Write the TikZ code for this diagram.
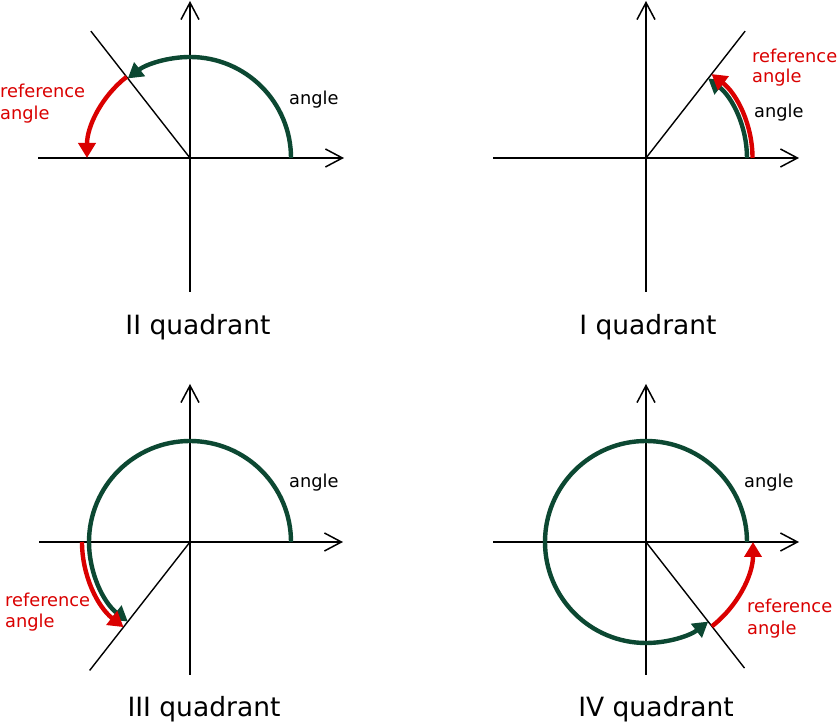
\documentclass[tikz,border=0pt]{standalone}
\usepackage{fontspec}
\setmainfont{DejaVu Sans}
\usetikzlibrary{arrows.meta}
\definecolor{arcgreen}{RGB}{12,72,50}
\definecolor{refred}{RGB}{218,0,0}
\begin{document}
\begin{tikzpicture}[x=1pt,y=1pt,
  axis/.style={line width=1.5pt, -{Straight Barb[length=17pt,width=18pt]}},
  termline/.style={line width=1.4pt},
  greenarc/.style={arcgreen, line width=4.4pt, -{Triangle[length=15pt,width=17pt]}},
  redarc/.style={refred, line width=4.4pt, -{Triangle[length=15pt,width=17pt]}},
  lbl/.style={font=\fontsize{17.8}{21}\selectfont, inner sep=0pt, anchor=base west},
  reflbl/.style={lbl, text=refred},
  titlelbl/.style={font=\fontsize{26.5}{32}\selectfont, inner sep=0pt, anchor=base}]
\useasboundingbox (0,0) rectangle (840,722);
\fill[white] (0,0) rectangle (840,722);

% ---------- II quadrant ----------
\coordinate (O2) at (190,564);
\begin{scope}[shift={(O2)}]
  \draw[axis] (-152pt,0pt) -- (154pt,0pt);
  \draw[axis] (0pt,-134pt) -- (0pt,157pt);
  \draw[termline] (0pt,0pt) -- (128:161pt);
  \draw[greenarc] (0:101pt) arc[start angle=0, end angle=128, radius=101pt];
  \draw[redarc] (128:103pt) arc[start angle=128, end angle=180, radius=103pt];
\end{scope}
\node[lbl] (a2) at (289,617) {angle};
\node[reflbl] (r2a) at (0,624) {reference};
\node[reflbl] (r2b) at (0,602) {angle};
\node[titlelbl] (t2) at (198,387) {II quadrant};

% ---------- I quadrant ----------
\coordinate (O1) at (646,564);
\begin{scope}[shift={(O1)}]
  \draw[axis] (-153pt,0pt) -- (153pt,0pt);
  \draw[axis] (0pt,-134pt) -- (0pt,157pt);
  \draw[termline] (0pt,0pt) -- (52:161pt);
  \draw[greenarc] (0:101pt) arc[start angle=0, end angle=52, radius=101pt];
  \draw[redarc] (0:106.5pt) arc[start angle=0, end angle=52, radius=106.5pt];
\end{scope}
\node[reflbl] (r1a) at (752,659) {reference};
\node[reflbl] (r1b) at (752,639) {angle};
\node[lbl] (a1) at (754,604) {angle};
\node[titlelbl] (t1) at (648,387) {I quadrant};

% ---------- III quadrant ----------
\coordinate (O3) at (190,180);
\begin{scope}[shift={(O3)}]
  \draw[axis] (-151pt,0pt) -- (153pt,0pt);
  \draw[axis] (0pt,-133pt) -- (0pt,158pt);
  \draw[termline] (0pt,0pt) -- (232:163pt);
  \draw[greenarc] (0:101pt) arc[start angle=0, end angle=232, radius=101pt];
  \draw[redarc] (180:108pt) arc[start angle=180, end angle=232, radius=108pt];
\end{scope}
\node[lbl] (a3) at (289,234) {angle};
\node[reflbl] (r3a) at (5,115) {reference};
\node[reflbl] (r3b) at (5,94) {angle};
\node[titlelbl] (t3) at (204,5) {III quadrant};

% ---------- IV quadrant ----------
\coordinate (O4) at (646,180);
\begin{scope}[shift={(O4)}]
  \draw[axis] (-153pt,0pt) -- (153pt,0pt);
  \draw[axis] (0pt,-133pt) -- (0pt,158pt);
  \draw[termline] (0pt,0pt) -- (308:160pt);
  \draw[greenarc] (0:101pt) arc[start angle=0, end angle=308, radius=101pt];
  \draw[redarc] (308:107pt) arc[start angle=308, end angle=360, radius=107pt];
\end{scope}
\node[lbl] (a4) at (744,234) {angle};
\node[reflbl] (r4a) at (747,109) {reference};
\node[reflbl] (r4b) at (747,87) {angle};
\node[titlelbl] (t4) at (656,5) {IV quadrant};
\end{tikzpicture}
\end{document}
